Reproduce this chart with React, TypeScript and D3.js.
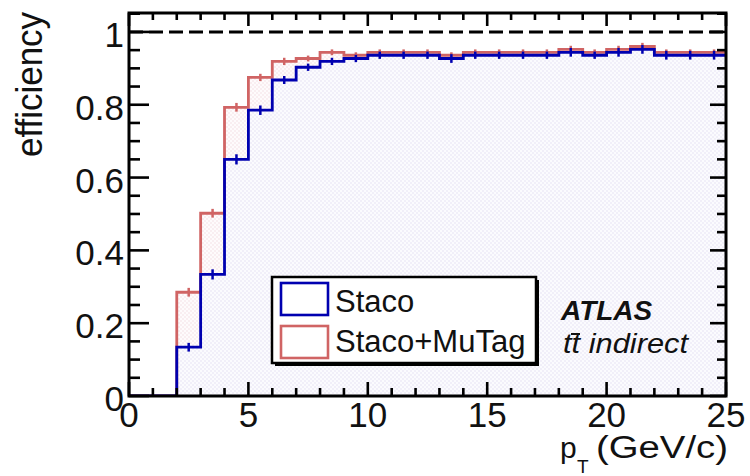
import React from 'react';
import * as d3 from 'd3';

// bin lower edges (GeV/c), bins are 1 GeV wide
const binLow = [0, 1, 2, 3, 4, 5, 6, 7, 8, 9, 10, 11, 12, 13, 14, 15, 16, 17, 18, 19, 20, 21, 22, 23, 24];
const binWidth = 1;

// efficiencies
const stacoEff = [0, 0, 0.134, 0.334, 0.65, 0.785, 0.868, 0.903, 0.919, 0.927, 0.936, 0.936, 0.936, 0.927, 0.936, 0.936, 0.936, 0.936, 0.944, 0.936, 0.944, 0.952, 0.936, 0.936, 0.936];
const mutagEff = [0, 0, 0.285, 0.502, 0.793, 0.875, 0.919, 0.927, 0.944, 0.936, 0.944, 0.944, 0.944, 0.936, 0.944, 0.944, 0.944, 0.944, 0.952, 0.944, 0.952, 0.96, 0.944, 0.944, 0.944];
const stacoErr = [0, 0, 0.012, 0.014, 0.014, 0.013, 0.011, 0.01, 0.01, 0.01, 0.01, 0.01, 0.01, 0.012, 0.01, 0.01, 0.01, 0.01, 0.012, 0.01, 0.012, 0.012, 0.012, 0.012, 0.012];
const mutagErr = [0, 0, 0.012, 0.012, 0.012, 0.01, 0.01, 0.008, 0.008, 0.008, 0.008, 0.008, 0.008, 0.008, 0.008, 0.008, 0.008, 0.008, 0.01, 0.008, 0.01, 0.01, 0.008, 0.008, 0.008];

const xTicks = [0, 5, 10, 15, 20, 25];
const yTicks = [0, 0.2, 0.4, 0.6, 0.8, 1];
const yTickLabels = ['0', '0.2', '0.4', '0.6', '0.8', '1'];

const legendItems = ['Staco', 'Staco+MuTag'];

const width = 750;
const height = 476;
const margin = { top: 13, right: 24, bottom: 80, left: 129 };
const font = '"Liberation Sans", Arial, Helvetica, sans-serif';
const blue = '#0000b0';
const red = '#d06464';

const App = () => {
  const x = d3.scaleLinear().domain([0, 25]).range([margin.left, width - margin.right]);
  const y = d3.scaleLinear().domain([0, 1.052]).range([height - margin.bottom, margin.top]);

  const x0 = x.range()[0], x1 = x.range()[1];
  const y0 = y.range()[0], y1 = y.range()[1];

  const stepPoints = (vals: number[]) =>
    binLow.map((b, i) => [b, vals[i]] as [number, number])
      .concat([[binLow[binLow.length - 1] + binWidth, vals[vals.length - 1]]]);

  const lineFn = d3.line<[number, number]>()
    .x(d => x(d[0]))
    .y(d => y(d[1]))
    .curve(d3.curveStepAfter);
  const areaFn = d3.area<[number, number]>()
    .x(d => x(d[0]))
    .y0(y(0))
    .y1(d => y(d[1]))
    .curve(d3.curveStepAfter);

  const minorX = d3.range(0, 25.01, 1);
  const minorY = d3.range(0, 1.051, 0.05);

  const errBars = (vals: number[], errs: number[], color: string) =>
    binLow.map((b, i) => vals[i] > 0 ? (
      <line key={i} x1={x(b + binWidth / 2)} x2={x(b + binWidth / 2)}
        y1={y(vals[i] - errs[i])} y2={y(vals[i] + errs[i])}
        stroke={color} strokeWidth={2.5} />
    ) : null);

  return (
    <svg width={width} height={height} style={{ position: 'absolute', left: 0, top: 0, background: '#fff' }}>
      <defs>
        <clipPath id="plotClip">
          <rect x={x0} y={y1} width={x1 - x0} height={y0 - y1} />
        </clipPath>
        <pattern id="fillBlue" width={4} height={4} patternUnits="userSpaceOnUse">
          <rect width={4} height={4} fill="#fbfbfe" />
          <rect width={2} height={2} fill="#f1eff9" />
          <rect x={2} y={2} width={2} height={2} fill="#f1eff9" />
        </pattern>
        <pattern id="fillRed" width={4} height={4} patternUnits="userSpaceOnUse">
          <rect width={4} height={4} fill="#fefbfc" />
          <rect width={2} height={2} fill="#f9eef1" />
          <rect x={2} y={2} width={2} height={2} fill="#f9eef1" />
        </pattern>
      </defs>

      <g clipPath="url(#plotClip)">
        <path d={areaFn(stepPoints(mutagEff)) || ''} fill="url(#fillRed)" />
        <path d={areaFn(stepPoints(stacoEff)) || ''} fill="url(#fillBlue)" />

        {/* dashed line at efficiency = 1 */}
        <line x1={x0} x2={x1} y1={y(1)} y2={y(1)} stroke="#000" strokeWidth={3} strokeDasharray="14 6" />

        <path d={lineFn(stepPoints(mutagEff)) || ''} fill="none" stroke={red} strokeWidth={2.8} />
        {errBars(mutagEff, mutagErr, red)}
        <path d={lineFn(stepPoints(stacoEff)) || ''} fill="none" stroke={blue} strokeWidth={2.8} />
        {errBars(stacoEff, stacoErr, blue)}
      </g>

      {/* ticks on all four sides, pointing inward */}
      <g stroke="#000" strokeWidth={2.6}>
        {minorX.map(t => {
          const major = xTicks.includes(t);
          return (
            <g key={'x' + t}>
              <line x1={x(t)} x2={x(t)} y1={y0} y2={y0 - (major ? 14 : 8)} />
              <line x1={x(t)} x2={x(t)} y1={y1} y2={y1 + (major ? 13 : 7)} />
            </g>
          );
        })}
        {minorY.map((t, i) => {
          const major = i % 4 === 0;
          return (
            <g key={'y' + i}>
              <line x1={x0} x2={x0 + (major ? 20 : 11)} y1={y(t)} y2={y(t)} />
              <line x1={x1} x2={x1 - (major ? 16 : 9)} y1={y(t)} y2={y(t)} />
            </g>
          );
        })}
      </g>

      <rect x={x0} y={y1} width={x1 - x0} height={y0 - y1} fill="none" stroke="#000" strokeWidth={3} />

      {/* tick labels */}
      <g fontFamily={font} fontSize={35} fill="#111">
        {xTicks.map(t => (
          <text key={t} x={x(t)} y={y0 + 31} textAnchor="middle">{t}</text>
        ))}
        {yTicks.map((t, i) => (
          <text key={t} x={x0 - 5} y={y(t) + 15} textAnchor="end">{yTickLabels[i]}</text>
        ))}
      </g>

      {/* axis titles */}
      <g fontFamily={font} fill="#111">
        <text x={560} y={458} fontSize={30}>p</text>
        <text x={577} y={473} fontSize={19}>T</text>
        <text x={596} y={458} fontSize={31} textLength={132} lengthAdjust="spacingAndGlyphs">(GeV/c)</text>
        <text transform={`translate(42, 157) rotate(-90)`} fontSize={36} textLength={145} lengthAdjust="spacingAndGlyphs">efficiency</text>
      </g>

      {/* legend */}
      <g fontFamily={font}>
        <rect x={275} y={280} width={264} height={86} fill="#000" />
        <rect x={272} y={277} width={264} height={86} fill="#fff" stroke="#000" strokeWidth={2.5} />
        {legendItems.map((name, i) => (
          <g key={name}>
            <rect x={281} y={283 + i * 43} width={47} height={32} fill="#fff"
              stroke={i === 0 ? blue : red} strokeWidth={2.6} />
            <text x={335} y={312 + i * 40} fontSize={31} fill="#111">{name}</text>
          </g>
        ))}
      </g>

      {/* ATLAS label */}
      <g fontFamily={font} fill="#111" fontStyle="italic">
        <text x={561} y={320} fontSize={28} fontWeight="bold">ATLAS</text>
        <text x={563} y={353} fontSize={28} textLength={125} lengthAdjust="spacingAndGlyphs">tt indirect</text>
        <line x1={571} x2={580} y1={334} y2={334} stroke="#111" strokeWidth={2} />
      </g>
    </svg>
  );
};

export default App;
